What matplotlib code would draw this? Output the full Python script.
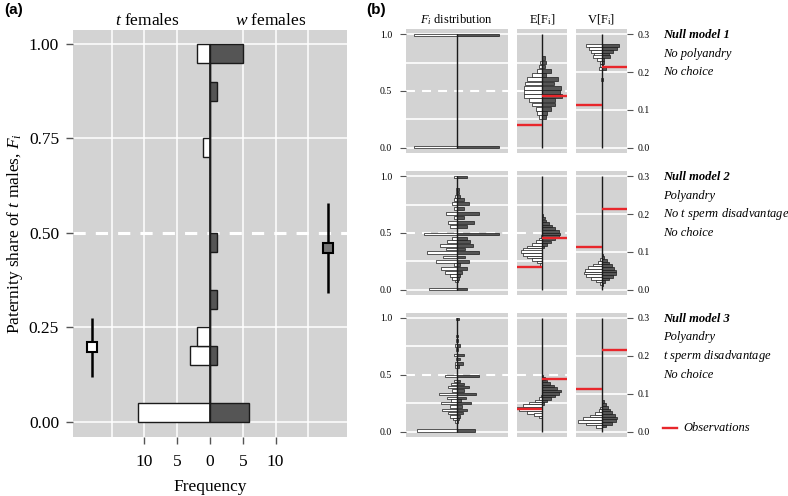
import matplotlib
matplotlib.use("Agg")
import matplotlib.pyplot as plt
import numpy as np
from matplotlib.lines import Line2D

plt.rcParams['font.family'] = ['Liberation Serif', 'DejaVu Serif']
plt.rcParams['mathtext.fontset'] = 'custom'
plt.rcParams['mathtext.rm'] = 'Liberation Serif'
plt.rcParams['mathtext.it'] = 'Liberation Serif:italic'

# ---------------- data: panel (a) ----------------
a_bin_lo = [0.00, 0.05, 0.10, 0.15, 0.20, 0.25, 0.30, 0.35, 0.40, 0.45,
            0.50, 0.55, 0.60, 0.65, 0.70, 0.75, 0.80, 0.85, 0.90, 0.95]
a_t_counts = [11, 0, 0, 3, 2, 0, 0, 0, 0, 0, 0, 0, 0, 0, 1, 0, 0, 0, 0, 2]
a_w_counts = [6, 0, 0, 1, 0, 0, 1, 0, 0, 1, 0, 0, 0, 0, 0, 0, 0, 1, 0, 5]
t_mean, t_lo, t_hi = 0.198, 0.12, 0.275
w_mean, w_lo, w_hi = 0.46, 0.34, 0.58

# ---------------- data: panel (b) ----------------
# observed E[F_i] and V[F_i] for t and w females
obs_E_t, obs_E_w = 0.198, 0.46
obs_V_t, obs_V_w = 0.113, 0.214

# Null model 1
m1_F_y = [0.01, 0.99]
m1_F_t = [129, 129]
m1_F_w = [126, 126]
m1_E_y = [0.270, 0.307, 0.344, 0.381, 0.418, 0.455, 0.492, 0.529, 0.566,
          0.603, 0.640, 0.677, 0.714, 0.751, 0.788]
m1_E_t = [8, 15, 17, 30, 40, 53, 55, 55, 50, 45, 30, 15, 8, 5, 0]
m1_E_w = [12, 15, 27, 38, 40, 60, 55, 57, 37, 47, 12, 27, 10, 12, 8]
m1_V_y = [0.270, 0.262, 0.255, 0.247, 0.240, 0.232, 0.225, 0.217, 0.210, 0.180]
m1_V_t = [45, 38, 30, 23, 25, 13, 5, 3, 6, 2]
m1_V_w = [52, 47, 35, 22, 25, 7, 8, 5, 12, 3]

# Null model 2
m2_F_y = [0.99, 0.88, 0.85, 0.82, 0.795, 0.76, 0.716, 0.67, 0.634, 0.594,
          0.556, 0.49, 0.453, 0.424, 0.389, 0.36, 0.33, 0.29, 0.25, 0.225,
          0.19, 0.155, 0.125, 0.10, 0.08, 0.01]
m2_F_t = [10, 3, 4, 5, 8, 15, 10, 32, 10, 28, 20, 98, 15, 30, 52, 32, 88,
          42, 62, 10, 48, 35, 22, 15, 5, 82]
m2_F_w = [30, 5, 6, 8, 20, 35, 20, 65, 20, 50, 30, 125, 30, 40, 48, 25, 65,
          23, 35, 10, 30, 15, 10, 5, 3, 30]
m2_E_t_y = [0.47, 0.447, 0.424, 0.401, 0.378, 0.355, 0.336, 0.313, 0.290,
            0.268, 0.246, 0.225]
m2_E_t = [3, 8, 18, 30, 45, 58, 62, 58, 45, 30, 15, 5]
m2_E_w_y = [0.652, 0.630, 0.607, 0.584, 0.561, 0.538, 0.515, 0.492, 0.469,
            0.446, 0.423, 0.400, 0.377]
m2_E_w = [3, 8, 12, 20, 30, 40, 50, 55, 52, 40, 28, 15, 5]
m2_V_t_y = [0.080, 0.073, 0.066, 0.059, 0.052, 0.045, 0.038, 0.031, 0.024, 0.017]
m2_V_t = [3, 10, 25, 40, 50, 53, 45, 30, 15, 5]
m2_V_w_y = [0.092, 0.085, 0.078, 0.071, 0.064, 0.057, 0.050, 0.043, 0.036,
            0.029, 0.022, 0.015]
m2_V_w = [3, 8, 15, 22, 30, 38, 43, 42, 35, 22, 10, 3]

# Null model 3
m3_F_y = [0.99, 0.84, 0.80, 0.754, 0.72, 0.673, 0.636, 0.60, 0.57, 0.49,
          0.446, 0.42, 0.39, 0.36, 0.33, 0.295, 0.272, 0.25, 0.22, 0.19,
          0.165, 0.135, 0.11, 0.09, 0.01]
m3_F_t = [3, 2, 2, 6, 3, 9, 4, 7, 5, 36, 9, 17, 26, 15, 54, 29, 18, 49, 20,
          45, 28, 22, 13, 6, 119]
m3_F_w = [6, 3, 3, 10, 3, 21, 8, 18, 5, 66, 10, 21, 35, 20, 57, 26, 12, 42,
          15, 30, 18, 10, 6, 3, 54]
m3_E_t_y = [0.31, 0.29, 0.27, 0.25, 0.23, 0.21, 0.19, 0.17, 0.15, 0.13]
m3_E_t = [3, 10, 22, 38, 58, 75, 68, 45, 25, 8]
m3_E_w_y = [0.49, 0.468, 0.446, 0.424, 0.402, 0.380, 0.358, 0.336, 0.314,
            0.292, 0.270, 0.248]
m3_E_w = [3, 8, 15, 25, 35, 45, 57, 50, 40, 28, 15, 6]
m3_V_t_y = [0.062, 0.055, 0.048, 0.041, 0.034, 0.027, 0.020, 0.013]
m3_V_t = [3, 8, 18, 35, 55, 70, 45, 15]
m3_V_w_y = [0.089, 0.080, 0.071, 0.064, 0.057, 0.050, 0.043, 0.036, 0.029,
            0.022, 0.015]
m3_V_w = [2, 6, 12, 18, 25, 32, 40, 47, 42, 30, 12]

model_titles = ['Null model 1', 'Null model 2', 'Null model 3']
model_notes = [['No polyandry', 'No choice'],
               ['Polyandry', 'No $t$ sperm disadvantage', 'No choice'],
               ['Polyandry', '$t$ sperm disadvantage', 'No choice']]

# ---------------- figure ----------------
W, H = 788, 496
fig = plt.figure(figsize=(W / 100, H / 100), dpi=100)

BG = '#d3d3d3'
DARK = '#555555'
LIGHT = '#ffffff'
EDGE = '#1a1a1a'
RED = '#e8262b'


def px_axes(x0, y0, x1, y1):
    return fig.add_axes([x0 / W, 1 - y1 / H, (x1 - x0) / W, (y1 - y0) / H])


def clean(ax):
    ax.set_facecolor(BG)
    for s in ax.spines.values():
        s.set_visible(False)


# ---------------- panel (a) ----------------
ax = px_axes(73, 30, 347, 437)
clean(ax)
ax.set_xlim(-20.9, 20.9)
ax.set_ylim(-0.04, 1.037)
for v in [-15, -10, -5, 5, 10, 15]:
    ax.axvline(v, color='white', lw=1.1, zorder=0)
for v in [0, 0.25, 0.75, 1.0]:
    ax.axhline(v, color='white', lw=1.1, zorder=0)
ax.axhline(0.5, color='white', lw=2.2, dashes=(4, 3.3), zorder=1)

ax.barh(a_bin_lo, -np.array(a_t_counts), height=0.05, align='edge',
        color=LIGHT, edgecolor=EDGE, lw=1.0, zorder=3)
ax.barh(a_bin_lo, a_w_counts, height=0.05, align='edge',
        color=DARK, edgecolor=EDGE, lw=1.0, zorder=3)
ax.vlines(0, 0, 1, color=EDGE, lw=1.2, zorder=4)

ax.errorbar(-18, t_mean, yerr=[[t_mean - t_lo], [t_hi - t_mean]], fmt='s',
            ms=7, mfc='white', mec='black', mew=1.5, ecolor='black',
            elinewidth=1.8, capsize=0, zorder=5)
ax.errorbar(18, w_mean, yerr=[[w_mean - w_lo], [w_hi - w_mean]], fmt='s',
            ms=7, mfc='#777777', mec='black', mew=1.5, ecolor='black',
            elinewidth=1.8, capsize=0, zorder=5)

ax.set_xticks([-10, -5, 0, 5, 10])
ax.set_xticklabels(['10', '5', '0', '5', '10'])
ax.set_yticks([0, 0.25, 0.5, 0.75, 1.0])
ax.set_yticklabels(['0.00', '0.25', '0.50', '0.75', '1.00'])
ax.tick_params(axis='x', length=5, width=1, color='#555555', labelsize=12.5, pad=7)
ax.tick_params(axis='y', length=5, width=1, color='#555555', labelsize=12.5, pad=5)
ax.set_xlabel('Frequency', fontsize=12.5, labelpad=7)
ax.set_ylabel('Paternity share of $t$ males, $F_i$', fontsize=12.5, labelpad=3)

ax.text(-9.5, 1.022, '$t$ females', transform=ax.get_xaxis_transform(),
        ha='center', va='center', fontsize=12.5)
ax.text(9.3, 1.022, '$w$ females', transform=ax.get_xaxis_transform(),
        ha='center', va='center', fontsize=12.5)

fig.text(4 / W, 1 - 10 / H, '(a)', fontsize=11, fontweight='bold',
         family='Liberation Sans', va='center', ha='left')
fig.text(366 / W, 1 - 10 / H, '(b)', fontsize=11, fontweight='bold',
         family='Liberation Sans', va='center', ha='left')

# ---------------- panel (b) ----------------
row_tops = [29, 171, 312.7]
row_h = 124
col_F = (406, 508)
col_E = (516.7, 567.3)
col_V = (576, 627)
ypad = 0.044

rows = [
    dict(F=(m1_F_y, m1_F_t, m1_F_y, m1_F_w),
         E=(m1_E_y, m1_E_t, m1_E_y, m1_E_w),
         V=(m1_V_y, m1_V_t, m1_V_y, m1_V_w), hE=0.033, hV=0.0075),
    dict(F=(m2_F_y, m2_F_t, m2_F_y, m2_F_w),
         E=(m2_E_t_y, m2_E_t, m2_E_w_y, m2_E_w),
         V=(m2_V_t_y, m2_V_t, m2_V_w_y, m2_V_w), hE=0.022, hV=0.0068),
    dict(F=(m3_F_y, m3_F_t, m3_F_y, m3_F_w),
         E=(m3_E_t_y, m3_E_t, m3_E_w_y, m3_E_w),
         V=(m3_V_t_y, m3_V_t, m3_V_w_y, m3_V_w), hE=0.021, hV=0.0068),
]


def backtoback(ax, data, h):
    ty, tn, wy, wn = data
    ax.barh(ty, -np.array(tn), height=h, color=LIGHT, edgecolor=EDGE,
            lw=0.5, zorder=3)
    ax.barh(wy, wn, height=h, color=DARK, edgecolor=EDGE, lw=0.5, zorder=3)


for r, top in enumerate(row_tops):
    bot = top + row_h
    d = rows[r]

    # F_i distribution
    axF = px_axes(col_F[0], top, col_F[1], bot)
    clean(axF)
    axF.set_xlim(-152, 152)
    axF.set_ylim(-ypad, 1 + ypad)
    for v in [0, 0.25, 0.75, 1.0]:
        axF.axhline(v, color='white', lw=1.2, zorder=0)
    axF.axhline(0.5, color='white', lw=1.5, dashes=(4.3, 3.4), zorder=1)
    backtoback(axF, d['F'], 0.022)
    axF.vlines(0, 0, 1, color=EDGE, lw=1.0, zorder=4)
    axF.set_xticks([])
    axF.set_yticks([0, 0.5, 1.0])
    axF.set_yticklabels(['0.0', '0.5', '1.0'])
    axF.tick_params(axis='y', length=4, color='#555555', labelsize=7, pad=6)

    # E[F_i]
    axE = px_axes(col_E[0], top, col_E[1], bot)
    clean(axE)
    axE.set_xlim(-76, 76)
    axE.set_ylim(-ypad, 1 + ypad)
    for v in [0, 0.25, 0.75, 1.0]:
        axE.axhline(v, color='white', lw=1.2, zorder=0)
    axE.axhline(0.5, color='white', lw=1.5, dashes=(4.3, 3.4), zorder=1)
    backtoback(axE, d['E'], d['hE'])
    axE.vlines(0, 0, 1, color=EDGE, lw=1.0, zorder=4)
    axE.hlines(obs_E_t, -76, 0, color=RED, lw=1.7, zorder=6)
    axE.hlines(obs_E_w, 0, 76, color=RED, lw=1.7, zorder=6)
    axE.set_xticks([])
    axE.set_yticks([])

    # V[F_i]
    axV = px_axes(col_V[0], top, col_V[1], bot)
    clean(axV)
    axV.set_xlim(-76, 76)
    axV.set_ylim(-0.3 * ypad, 0.3 * (1 + ypad))
    for v in [0, 0.1, 0.2, 0.3]:
        axV.axhline(v, color='white', lw=1.2, zorder=0)
    backtoback(axV, d['V'], d['hV'])
    axV.vlines(0, 0, 0.3, color=EDGE, lw=1.0, zorder=4)
    axV.hlines(obs_V_t, -76, 0, color=RED, lw=1.7, zorder=6)
    axV.hlines(obs_V_w, 0, 76, color=RED, lw=1.7, zorder=6)
    axV.set_xticks([])
    axV.set_yticks([0, 0.1, 0.2, 0.3])
    axV.set_yticklabels(['0.0', '0.1', '0.2', '0.3'])
    axV.yaxis.tick_right()
    axV.tick_params(axis='y', length=4, color='#555555', labelsize=7, pad=4)

    if r == 0:
        axF.set_title('$F_i$ distribution', fontsize=9, pad=4)
        axE.set_title(r'E[F$_\mathrm{i}$]', fontsize=9, pad=4)
        axV.set_title(r'V[F$_\mathrm{i}$]', fontsize=9, pad=4)

    # model description
    fig.text(663 / W, 1 - (top + 6) / H, model_titles[r], fontsize=9,
             style='italic', fontweight='bold', va='center', ha='left')
    for k, note in enumerate(model_notes[r]):
        fig.text(663 / W, 1 - (top + 6 + 18.7 * (k + 1)) / H, note,
                 fontsize=9, style='italic', va='center', ha='left')

# legend for observations
fig.add_artist(Line2D([663 / W, 677 / W], [1 - 428 / H, 1 - 428 / H],
                      color=RED, lw=1.7, transform=fig.transFigure))
fig.text(683 / W, 1 - 428 / H, 'Observations', fontsize=9, style='italic',
         va='center', ha='left')

fig.savefig('out.png', dpi=100)
